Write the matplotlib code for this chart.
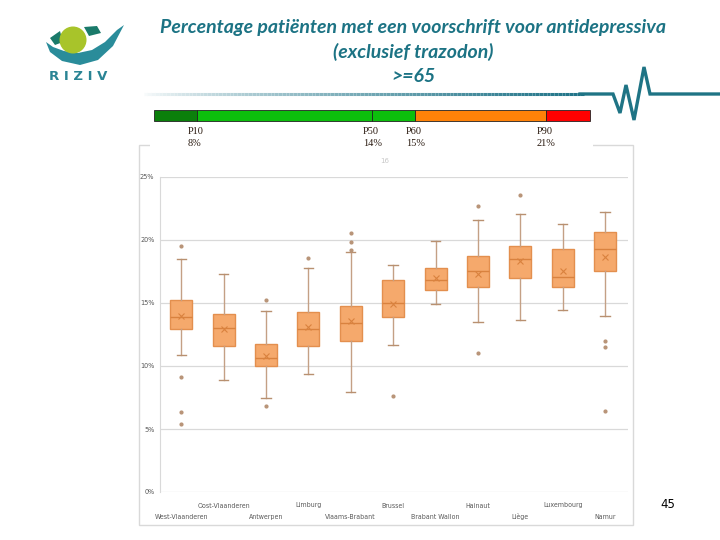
import numpy as np
import matplotlib; matplotlib.use("Agg")
import matplotlib.pyplot as plt
from matplotlib.patches import Rectangle, Circle, Polygon
from matplotlib.collections import LineCollection

# data (percent)
provinces = ["West-Vlaanderen", "Oost-Vlaanderen", "Antwerpen", "Limburg", "Vlaams-Brabant",
             "Brussel", "Brabant Wallon", "Hainaut", "Liège", "Luxembourg", "Namur"]
q1 = [12.9, 11.6, 10.0, 11.6, 12.0, 13.9, 16.0, 16.3, 17.0, 16.25, 17.5]
med = [13.9, 13.05, 10.6, 12.9, 13.4, 15.0, 16.85, 17.5, 18.5, 17.1, 19.3]
q3 = [15.2, 14.15, 11.75, 14.3, 14.8, 16.8, 17.8, 18.7, 19.5, 19.25, 20.65]
mean = [14.0, 12.9, 10.8, 13.1, 13.6, 14.95, 17.0, 17.3, 18.35, 17.5, 18.65]
wlo = [10.85, 8.9, 7.45, 9.35, 7.95, 11.65, 14.95, 13.5, 13.65, 14.45, 13.95]
whi = [18.5, 17.3, 14.4, 17.8, 19.05, 18.05, 19.95, 21.6, 22.1, 21.3, 22.2]
outliers = [[19.5, 9.15, 6.35, 5.4], [], [15.25, 6.85], [18.6], [19.2, 19.85, 20.55],
            [7.6], [], [22.7, 11.0], [23.55], [], [11.95, 11.5, 6.45]]
yticks = [0, 5, 10, 15, 20, 25]

pct_names = ["P10", "P50", "P60", "P90"]
pct_values = ["8%", "14%", "15%", "21%"]
bar_colors = ["#0b7f0b", "#0cbf0c", "#0cbf0c", "#ff8208", "#ff0000"]
bar_edges = [154, 197, 372, 415, 546, 590]  # pixel layout of the percentile strip

W, H = 720, 540
fig = plt.figure(figsize=(7.2, 5.4), dpi=100)
fig.patch.set_facecolor("white")
narrow = ["Liberation Sans Narrow", "DejaVu Sans"]

# decoration layer in pixel coordinates
deco = fig.add_axes([0, 0, 1, 1], zorder=0)
deco.set_xlim(0, W); deco.set_ylim(H, 0); deco.axis("off")

# chart panel border
deco.add_patch(Rectangle((139, 145), 494, 380, fill=False, ec="#d9d9d9", lw=1))
deco.add_patch(Rectangle((150, 100), 443, 52, fc="white", ec="none"))

# gradient rule + heartbeat
xs = np.linspace(140, 584, 120)
segs = [[(xs[i], 94), (xs[i + 1], 94)] for i in range(len(xs) - 1)]
t = np.linspace(0, 1, len(segs))
teal = np.array([0.12, 0.45, 0.53])
cols = [tuple((1 - s**0.7) * np.ones(3) + s**0.7 * teal) for s in t]
deco.add_collection(LineCollection(segs, colors=cols, linewidths=2.2))
hb_x = [580, 613, 620, 626, 634, 644, 650, 720]
hb_y = [94, 94, 113, 85, 120, 67, 94, 94]
deco.plot(hb_x, hb_y, color="#1f7485", lw=2.4, solid_joinstyle="miter")

# logo
swoosh = Polygon([(46, 42), (50, 52), (62, 61), (80, 65), (98, 60), (113, 46), (124, 25),
                  (117, 30), (105, 42), (92, 50), (78, 53), (64, 51), (53, 47)],
                 closed=True, fc="#2a8c9a", ec="none")
deco.add_patch(swoosh)
deco.add_patch(Polygon([(50, 38), (60, 31), (63, 42), (55, 45)], fc="#1a7a6a", ec="none"))
deco.add_patch(Polygon([(84, 27), (97, 26), (101, 33), (89, 36)], fc="#1a7a6a", ec="none"))
deco.add_patch(Circle((73, 40), 13.5, fc="#a8c42a", ec="none"))
deco.text(78, 77, "R I Z I V", ha="center", va="center", fontsize=9.5, color="#2a8494",
          fontweight="bold", family="DejaVu Sans")

# title
for ty, line in zip([28, 52, 76], ["Percentage patiënten met een voorschrift voor antidepressiva",
                                   "(exclusief trazodon)", ">=65"]):
    deco.text(413, ty, line, ha="center", va="center", fontsize=14, style="italic",
              fontweight="bold", color="#1c7384", family="Lato")

# percentile strip
for i, c in enumerate(bar_colors):
    deco.add_patch(Rectangle((bar_edges[i], 110), bar_edges[i + 1] - bar_edges[i], 11,
                             fc=c, ec="#222222", lw=0.6))
for name, val, x in zip(pct_names, pct_values, bar_edges[1:5]):
    deco.text(x - 9, 131, name, ha="left", va="center", fontsize=7.5, color="#2a1a10",
              family="Liberation Serif")
    deco.text(x - 9, 143, val, ha="left", va="center", fontsize=7.5, color="#2a1a10",
              family="Liberation Serif")
deco.text(385, 161, "16", ha="center", va="center", fontsize=5, color="#c8c8c8")
deco.text(668, 504, "45", ha="center", va="center", fontsize=8.5, color="black",
          family="DejaVu Sans")

# box plot
ax = fig.add_axes([160 / W, (H - 492) / H, 468 / W, 315 / H], zorder=1)
ax.patch.set_alpha(0)
stats = []
for i, name in enumerate(provinces):
    stats.append(dict(label=name, q1=q1[i], med=med[i], q3=q3[i], mean=mean[i],
                      whislo=wlo[i], whishi=whi[i], fliers=outliers[i]))
pos = np.arange(1, len(provinces) + 1)
ax.bxp(stats, positions=pos, widths=0.52, patch_artist=True, showmeans=True,
       boxprops=dict(facecolor="#f5a96c", edgecolor="#e38f4e", lw=1),
       medianprops=dict(color="#d9823f", lw=1),
       whiskerprops=dict(color="#c4a085", lw=1),
       capprops=dict(color="#b89070", lw=1),
       capwidths=0.22,
       meanprops=dict(marker="x", markeredgecolor="#d9823f", markersize=5, markeredgewidth=0.8),
       flierprops=dict(marker="o", markersize=2, markerfacecolor="#b89478",
                       markeredgecolor="#b89478"))
ax.set_xlim(0.5, 11.54)
ax.set_ylim(0, 25)
ax.set_yticks(yticks)
ax.set_yticklabels([f"{v}%" for v in yticks], fontsize=5.2, color="#595959",
                   family=narrow, fontstretch="condensed")
ax.yaxis.grid(True, color="#d9d9d9", lw=0.9)
ax.set_axisbelow(True)
for s in ax.spines.values():
    s.set_visible(False)
ax.spines["left"].set_visible(True)
ax.spines["left"].set_color("#d9d9d9")
ax.set_xticks(pos)
ax.set_xticklabels([])
ax.tick_params(length=0, pad=4)
# staggered category labels (two rows)
for i, n in enumerate(provinces):
    yrow = -27 / 315 if i % 2 == 0 else -15.5 / 315
    ax.text(pos[i], yrow, n, transform=ax.get_xaxis_transform(), ha="center", va="baseline",
            fontsize=5, color="#595959", family=narrow, fontstretch="condensed")

plt.savefig("out.png", dpi=100, facecolor="white")
